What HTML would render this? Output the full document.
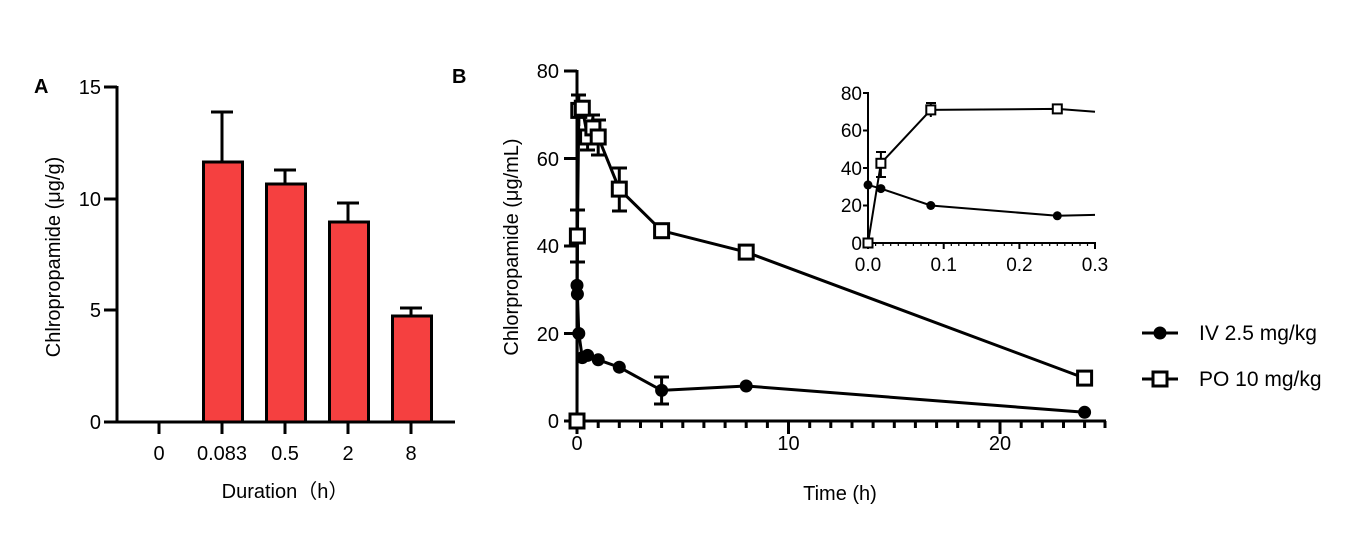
<!DOCTYPE html>
<html><head><meta charset="utf-8"><style>
body{margin:0;background:#fff}
svg{display:block;font-family:"Liberation Sans","Noto Sans CJK SC",sans-serif}
</style></head><body>
<svg width="1363" height="548" viewBox="0 0 1363 548" xmlns="http://www.w3.org/2000/svg">
<rect width="1363" height="548" fill="#fff"/>
<!-- Panel A -->
<text x="34" y="93" font-size="20" font-weight="bold">A</text>
<g stroke="#000" stroke-width="3" fill="none">
<line x1="117" y1="86" x2="117" y2="423"/>
<line x1="116" y1="422" x2="455" y2="422"/>
<line x1="104" y1="87" x2="117" y2="87"/>
<line x1="104" y1="199" x2="117" y2="199"/>
<line x1="104" y1="310" x2="117" y2="310"/>
<line x1="104" y1="422" x2="117" y2="422"/>
<line x1="159" y1="422" x2="159" y2="434"/>
<line x1="222" y1="422" x2="222" y2="434"/>
<line x1="285" y1="422" x2="285" y2="434"/>
<line x1="348" y1="422" x2="348" y2="434"/>
<line x1="411" y1="422" x2="411" y2="434"/>
</g>
<g stroke="#000" stroke-width="3" fill="#f54040">
<rect x="203.5" y="162" width="39" height="260"/>
<rect x="266.5" y="184" width="39" height="238"/>
<rect x="329.5" y="222" width="39" height="200"/>
<rect x="392.5" y="316" width="39" height="106"/>
</g>
<g stroke="#000" stroke-width="3">
<line x1="222" y1="162" x2="222" y2="112"/><line x1="211" y1="112" x2="233" y2="112"/>
<line x1="285" y1="184" x2="285" y2="170"/><line x1="274" y1="170" x2="296" y2="170"/>
<line x1="348" y1="222" x2="348" y2="203"/><line x1="337" y1="203" x2="359" y2="203"/>
<line x1="411" y1="316" x2="411" y2="308"/><line x1="400" y1="308" x2="422" y2="308"/>
</g>
<g font-size="20" text-anchor="end">
<text x="101" y="94">15</text><text x="101" y="206">10</text><text x="101" y="317">5</text><text x="101" y="429">0</text>
</g>
<g font-size="20" text-anchor="middle">
<text x="159" y="460">0</text><text x="222" y="460">0.083</text><text x="285" y="460">0.5</text><text x="348" y="460">2</text><text x="411" y="460">8</text>
<text x="285" y="498">Duration（h）</text>
</g>
<text transform="translate(60,257) rotate(-90)" font-size="20" text-anchor="middle">Chlropropamide (μg/g)</text>

<!-- Panel B -->
<text x="452" y="83" font-size="20" font-weight="bold">B</text>
<g stroke="#000" stroke-width="3" fill="none">
<line x1="577" y1="70" x2="577" y2="422"/>
<line x1="576" y1="421" x2="1106" y2="421"/>
<line x1="564" y1="71" x2="577" y2="71"/>
<line x1="564" y1="158.5" x2="577" y2="158.5"/>
<line x1="564" y1="246" x2="577" y2="246"/>
<line x1="564" y1="333.5" x2="577" y2="333.5"/>
<line x1="564" y1="421" x2="577" y2="421"/>
<path d="M577,421v13M788.5,421v13M1000,421v13"/>
</g>
<g stroke="#000" stroke-width="3">
<path d="M598.2,421v7M619.3,421v7M640.5,421v7M661.6,421v7M682.8,421v7M703.9,421v7M725.1,421v7M746.2,421v7M767.4,421v7M809.7,421v7M830.8,421v7M852,421v7M873.1,421v7M894.3,421v7M915.4,421v7M936.6,421v7M957.7,421v7M978.9,421v7M1021.2,421v7M1042.3,421v7M1063.5,421v7M1084.6,421v7M1105,421v7"/>
</g>
<g font-size="20" text-anchor="middle">
<text x="577" y="450">0</text><text x="788.5" y="450">10</text><text x="1000" y="450">20</text>
<text x="840" y="500">Time (h)</text>
</g>
<g font-size="20" text-anchor="end">
<text x="559" y="78">80</text><text x="559" y="166">60</text><text x="559" y="253">40</text><text x="559" y="341">20</text><text x="559" y="428">0</text>
</g>
<text transform="translate(518,247) rotate(-90)" font-size="20" text-anchor="middle">Chlorpropamide (μg/mL)</text>

<!-- PO series -->
<g stroke="#000" stroke-width="3" fill="none">
<polyline points="577,421 577.4,236 578.8,110.4 582.3,108.2 587.6,137 592.9,127.9 598.2,137 619.3,189.1 661.6,230.7 746.2,252.1 1084.6,378.1"/>
<path d="M577.4,210v52M570,210h15M570,262h15"/>
<path d="M578.8,95v31M571,95h15"/>
<path d="M587.6,124v26M580,150h15"/>
<path d="M592.9,115v25M585,115h15"/>
<path d="M598.2,120v35M591,120h15M591,155h15"/>
<path d="M619.3,168v43M612,168h15M612,211h15"/>
<!-- IV -->
<polyline points="577,285.4 577.4,294.1 578.8,333.5 582.3,357.6 587.6,355.4 598.2,359.8 619.3,367.2 661.6,390.4 746.2,386 1084.6,412.3"/>
<path d="M661.6,377v27M654,377h15M654,404h15"/>
</g>
<g fill="#000">
<circle cx="577" cy="285.4" r="6.5"/><circle cx="577.4" cy="294.1" r="6.5"/><circle cx="578.8" cy="333.5" r="6.5"/>
<circle cx="582.3" cy="357.6" r="6.5"/><circle cx="587.6" cy="355.4" r="6.5"/><circle cx="598.2" cy="359.8" r="6.5"/>
<circle cx="619.3" cy="367.2" r="6.5"/><circle cx="661.6" cy="390.4" r="6.5"/><circle cx="746.2" cy="386" r="6.5"/>
<circle cx="1084.6" cy="412.3" r="6.5"/>
</g>
<g fill="#fff" stroke="#000" stroke-width="3">
<rect x="570" y="414" width="14" height="14"/>
<rect x="570.4" y="229" width="14" height="14"/>
<rect x="571.8" y="103.4" width="14" height="14"/>
<rect x="575.3" y="101.2" width="14" height="14"/>
<rect x="580.6" y="130" width="14" height="14"/>
<rect x="585.9" y="120.9" width="14" height="14"/>
<rect x="591.2" y="130" width="14" height="14"/>
<rect x="612.3" y="182.1" width="14" height="14"/>
<rect x="654.6" y="223.7" width="14" height="14"/>
<rect x="739.2" y="245.1" width="14" height="14"/>
<rect x="1077.6" y="371.1" width="14" height="14"/>
</g>

<!-- Inset -->
<g stroke="#000" stroke-width="2" fill="none">
<line x1="868" y1="92" x2="868" y2="244"/>
<line x1="867" y1="243" x2="1096" y2="243"/>
<path d="M863,93h5M863,130.5h5M863,168h5M863,205.5h5M863,243h5"/>
<path d="M868,243v6M943.7,243v6M1019.4,243v6M1095,243v6"/>
</g>
<g stroke="#000" stroke-width="1.2">
<path d="M875.6,243v3M883.1,243v3M890.7,243v3M898.3,243v3M905.9,243v3M913.4,243v3M921,243v3M928.6,243v3M936.1,243v3M951.3,243v3M958.8,243v3M966.4,243v3M974,243v3M981.6,243v3M989.1,243v3M996.7,243v3M1004.3,243v3M1011.8,243v3M1027,243v3M1034.5,243v3M1042.1,243v3M1049.7,243v3M1057.3,243v3M1064.8,243v3M1072.4,243v3M1080,243v3M1087.5,243v3"/>
</g>
<g font-size="19" text-anchor="end">
<text x="862" y="100">80</text><text x="862" y="137">60</text><text x="862" y="175">40</text><text x="862" y="212">20</text><text x="862" y="250">0</text>
</g>
<g font-size="19" text-anchor="middle">
<text x="868" y="271">0.0</text><text x="943.7" y="271">0.1</text><text x="1019.4" y="271">0.2</text><text x="1095" y="271">0.3</text>
</g>
<g stroke="#000" stroke-width="2" fill="none">
<polyline points="868,184.9 880.9,188.6 930.8,205.5 1057.3,215.8 1095,214.9"/>
<polyline points="868,243 880.9,163.3 930.8,109.9 1057.3,108.9 1095,111.8"/>
<path d="M880.9,152v25M876,152h10M876,177h10"/>
<path d="M930.8,103v14M926,103h10"/>
</g>
<g fill="#000">
<circle cx="868" cy="184.9" r="4.5"/><circle cx="880.9" cy="188.6" r="4.5"/><circle cx="930.8" cy="205.5" r="4.5"/><circle cx="1057.3" cy="215.8" r="4.5"/>
</g>
<g fill="#fff" stroke="#000" stroke-width="2">
<rect x="863.5" y="238.5" width="9" height="9"/>
<rect x="876.4" y="158.8" width="9" height="9"/>
<rect x="926.3" y="105.4" width="9" height="9"/>
<rect x="1052.8" y="104.4" width="9" height="9"/>
</g>

<!-- Legend -->
<g stroke="#000" stroke-width="3">
<line x1="1142" y1="333" x2="1178" y2="333"/>
<line x1="1142" y1="379" x2="1178" y2="379"/>
</g>
<circle cx="1160" cy="333" r="6.5" fill="#000"/>
<rect x="1153" y="372" width="14" height="14" fill="#fff" stroke="#000" stroke-width="3"/>
<g font-size="21">
<text x="1199" y="340">IV 2.5 mg/kg</text>
<text x="1199" y="386">PO 10 mg/kg</text>
</g>
</svg>
</body></html>
